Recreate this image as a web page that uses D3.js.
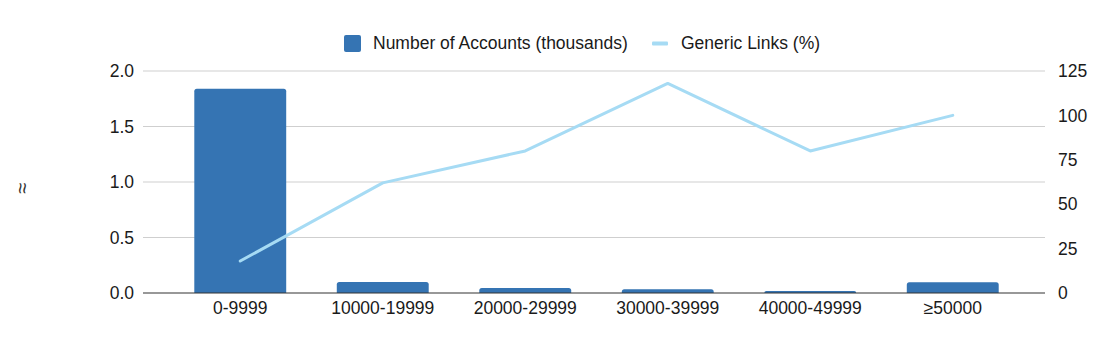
<!DOCTYPE html>
<html>
<head>
<meta charset="utf-8">
<script src="https://cdn.jsdelivr.net/npm/d3@7"></script>
<style>
  html, body { margin: 0; padding: 0; background: #fff; }
  svg { display: block; font-family: "Liberation Sans", Arial, sans-serif; }
</style>
</head>
<body>
<svg id="chart" width="1104" height="344"></svg>
<script>
// Account size buckets
const categories = ["0-9999", "10000-19999", "20000-29999", "30000-39999", "40000-49999", "\u226550000"];
// Number of accounts, thousands (left axis)
const accounts = [1.84, 0.10, 0.045, 0.033, 0.018, 0.097];
// Share of generic links, percent (right axis)
const genericLinks = [18, 62, 80, 118, 80, 100];
const leftTicks = [0, 0.5, 1.0, 1.5, 2.0];
const rightTicks = [0, 25, 50, 75, 100, 125];
const seriesNames = ["Number of Accounts (thousands)", "Generic Links (%)"];

const barColor = "#3574b3";
const lineColor = "#a6dbf4";
const fontSize = 17.5;
const textColor = "#1a1a1a";

const svg = d3.select("#chart");
const plot = { left: 143, right: 1045, top: 71, bottom: 293 };

const x = d3.scaleBand()
  .domain(categories)
  .range([169, 1024])
  .paddingInner(0.355)
  .paddingOuter(0.1775);

const yL = d3.scaleLinear().domain([0, 2.0]).range([plot.bottom, plot.top]);
const yR = d3.scaleLinear().domain([0, 125]).range([plot.bottom, plot.top]);

// Horizontal gridlines
svg.append("g")
  .selectAll("line")
  .data(leftTicks.filter(t => t !== 0))
  .join("line")
  .attr("x1", plot.left).attr("x2", plot.right)
  .attr("y1", d => yL(d)).attr("y2", d => yL(d))
  .attr("stroke", "#cfcfcf").attr("stroke-width", 1);

function styleText(g) {
  g.selectAll("text")
    .attr("font-size", fontSize)
    .attr("fill", textColor)
    .attr("font-family", "Liberation Sans, Arial, sans-serif");
}

// Left axis labels
const leftAxis = d3.axisLeft(yL).tickValues(leftTicks).tickFormat(d3.format(".1f")).tickSize(0).tickPadding(9);
svg.append("g")
  .attr("transform", `translate(${plot.left},0)`)
  .call(leftAxis)
  .call(g => g.select(".domain").remove())
  .call(styleText);

// Right axis labels
const rightAxis = d3.axisRight(yR).tickValues(rightTicks).tickSize(0).tickPadding(13);
svg.append("g")
  .attr("transform", `translate(${plot.right},0)`)
  .call(rightAxis)
  .call(g => g.select(".domain").remove())
  .call(styleText);

// Bars with slightly rounded top corners
function topRounded(x0, y0, w, h, r) {
  r = Math.min(r, h, w / 2);
  return `M${x0},${y0 + h}V${y0 + r}Q${x0},${y0} ${x0 + r},${y0}H${x0 + w - r}Q${x0 + w},${y0} ${x0 + w},${y0 + r}V${y0 + h}Z`;
}
svg.append("g")
  .selectAll("path")
  .data(categories.map((c, i) => ({ c, v: accounts[i] })))
  .join("path")
  .attr("d", d => topRounded(x(d.c), yL(d.v), x.bandwidth(), yL(0) - yL(d.v), 2.5))
  .attr("fill", barColor);

// Baseline
svg.append("line")
  .attr("x1", plot.left).attr("x2", plot.right)
  .attr("y1", yL(0)).attr("y2", yL(0))
  .attr("stroke", "#333").attr("stroke-width", 1.2);

// Category labels
const xAxis = d3.axisBottom(x).tickSize(0).tickPadding(9);
svg.append("g")
  .attr("transform", `translate(0,${plot.bottom})`)
  .call(xAxis)
  .call(g => g.select(".domain").remove())
  .call(styleText);

// Generic links line
const line = d3.line()
  .x((d, i) => x(categories[i]) + x.bandwidth() / 2)
  .y(d => yR(d));
svg.append("path")
  .datum(genericLinks)
  .attr("d", line)
  .attr("fill", "none")
  .attr("stroke", lineColor)
  .attr("stroke-width", 3)
  .attr("stroke-linejoin", "round")
  .attr("stroke-linecap", "round");

// Legend
const legend = svg.append("g").attr("font-size", fontSize).attr("fill", textColor);
legend.append("rect")
  .attr("x", 344).attr("y", 35).attr("width", 17).attr("height", 17).attr("rx", 2)
  .attr("fill", barColor);
legend.append("text")
  .attr("x", 373).attr("y", 49).text(seriesNames[0]);
legend.append("rect")
  .attr("x", 652).attr("y", 41.5).attr("width", 16).attr("height", 4).attr("rx", 1)
  .attr("fill", lineColor);
legend.append("text")
  .attr("x", 681).attr("y", 49).text(seriesNames[1]);

// Clipped vertical axis title glyph at the far left
svg.append("text")
  .attr("transform", "translate(29,188) rotate(-90)")
  .attr("font-size", 20).attr("fill", "#333")
  .attr("text-anchor", "middle")
  .text("\u2248");
</script>
</body>
</html>
